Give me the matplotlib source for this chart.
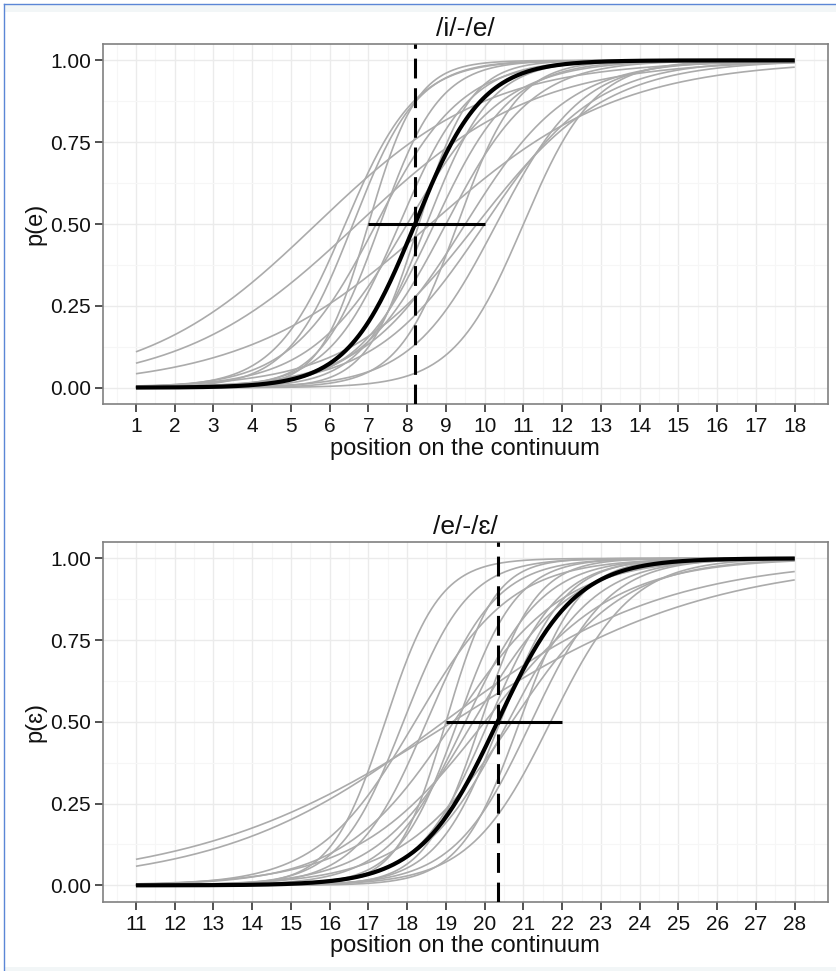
import numpy as np
import matplotlib
matplotlib.use("Agg")
import matplotlib.pyplot as plt
from matplotlib.lines import Line2D
from matplotlib.patches import Rectangle
from matplotlib.ticker import MultipleLocator, FixedLocator

FONT = ['Liberation Sans', 'DejaVu Sans']
plt.rcParams['font.family'] = FONT

# ---------------- data: /i/-/e/ continuum (individual logistic fits) -------------
ie_title = "/i/-/e/"
ie_ylabel = "p(e)"
ie_x = list(range(1, 19))
ie_mid = [5.66, 6.72, 8.6, 11.0, 10.3, 6.4, 7.0, 7.3, 8.3, 8.5, 8.7, 9.0,
          9.5, 9.8, 8.0, 7.2, 9.3, 10.0, 7.8, 6.6]
ie_slope = [0.45, 0.44, 0.41, 1.1, 0.9, 1.1, 1.6, 1.3, 1.5, 1.2, 1.0, 0.9,
            0.75, 0.6, 0.8, 0.9, 1.3, 0.7, 1.1, 1.2]
ie_mean_mid = 8.2
ie_mean_slope = 1.15
ie_seg = [7, 10]

# ---------------- data: /e/-/ɛ/ continuum ----------------
ee_title = "/e/-/ɛ/"
ee_ylabel = "p(ɛ)"
ee_x = list(range(11, 29))
ee_mid = [19.16, 18.94, 17.43, 17.9, 18.5, 19.0, 19.3, 19.5, 19.7, 19.9,
          20.1, 20.4, 20.6, 20.9, 21.7, 20.0, 19.2, 21.2, 18.2, 20.7]
ee_slope = [0.30, 0.35, 1.42, 1.2, 1.1, 1.6, 1.3, 1.0, 0.8, 1.4,
            1.1, 1.2, 0.9, 1.3, 0.95, 0.6, 0.7, 1.0, 0.8, 0.7]
ee_mean_mid = 20.33
ee_mean_slope = 1.0
ee_seg = [19, 22]

yticks = [0.0, 0.25, 0.5, 0.75, 1.0]
ytick_labels = ["0.00", "0.25", "0.50", "0.75", "1.00"]
xlabel = "position on the continuum"


def logistic(x, m, s):
    return 1.0 / (1.0 + np.exp(-s * (x - m)))


W, H = 837, 971
fig = plt.figure(figsize=(W / 100, H / 100), dpi=100)
fig.patch.set_facecolor("white")

# page frame decoration (screenshot edges)
fig.add_artist(Rectangle((4 / W, 1 - 12 / H), 1, 8 / H, transform=fig.transFigure,
                         facecolor="#f2f6f7", edgecolor="none", zorder=0))
fig.add_artist(Rectangle((4 / W, 0), 1, 4 / H, transform=fig.transFigure,
                         facecolor="#f2f6f7", edgecolor="none", zorder=0))
fig.add_artist(Line2D([4 / W, 1], [1 - 4 / H, 1 - 4 / H], transform=fig.transFigure,
                      color="#5b86d6", lw=1.0))
fig.add_artist(Line2D([4 / W, 4 / W], [0, 1 - 4 / H], transform=fig.transFigure,
                      color="#5b86d6", lw=1.0))


def panel(rect, xs, mids, slopes, mmid, mslope, seg, title, ylabel):
    ax = fig.add_axes(rect)
    x0, x1 = xs[0], xs[-1]
    rng = x1 - x0
    ax.set_xlim(x0 - 0.05 * rng, x1 + 0.05 * rng)
    ax.set_ylim(-0.05, 1.05)
    xx = np.linspace(x0, x1, 400)
    for m, s in zip(mids, slopes):
        ax.plot(xx, logistic(xx, m, s), color="#ababab", lw=1.2, zorder=2,
                solid_capstyle="butt")
    ax.plot(xx, logistic(xx, mmid, mslope), color="black", lw=3.0, zorder=3,
            solid_capstyle="butt")
    ax.axvline(mmid, color="black", lw=2.2, dashes=(6.5, 3.2), zorder=4)
    ax.plot(seg, [0.5, 0.5], color="black", lw=2.2, zorder=4, solid_capstyle="butt")

    ax.xaxis.set_major_locator(FixedLocator(xs))
    ax.xaxis.set_minor_locator(MultipleLocator(0.5))
    ax.set_yticks(yticks)
    ax.set_yticklabels(ytick_labels)
    ax.yaxis.set_minor_locator(MultipleLocator(0.125))
    ax.grid(True, which="major", color="#ebebeb", lw=1.0)
    ax.grid(True, which="minor", color="#f6f6f6", lw=0.8)
    ax.set_axisbelow(True)
    ax.tick_params(which="minor", length=0)
    ax.tick_params(which="major", length=5.5, width=1.2, color="#333333",
                   labelsize=15, labelcolor="#111111", pad=3)
    ax.tick_params(axis="x", pad=4)
    for sp in ax.spines.values():
        sp.set_color("#808080")
        sp.set_linewidth(1.2)
    ax.set_xlabel(xlabel, fontsize=17, color="#111111", labelpad=1)
    ax.set_ylabel(ylabel, fontsize=17, color="#111111", labelpad=3)
    ax.set_title(title, fontsize=19, color="#111111", pad=6)
    return ax


panel([103 / W, 1 - 404 / H, (827.7 - 103) / W, 360 / H], ie_x, ie_mid, ie_slope,
      ie_mean_mid, ie_mean_slope, ie_seg, ie_title, ie_ylabel)
panel([103 / W, 1 - 901.7 / H, (827.7 - 103) / W, 359.7 / H], ee_x, ee_mid, ee_slope,
      ee_mean_mid, ee_mean_slope, ee_seg, ee_title, ee_ylabel)

fig.savefig("out.png", dpi=100, facecolor="white")
